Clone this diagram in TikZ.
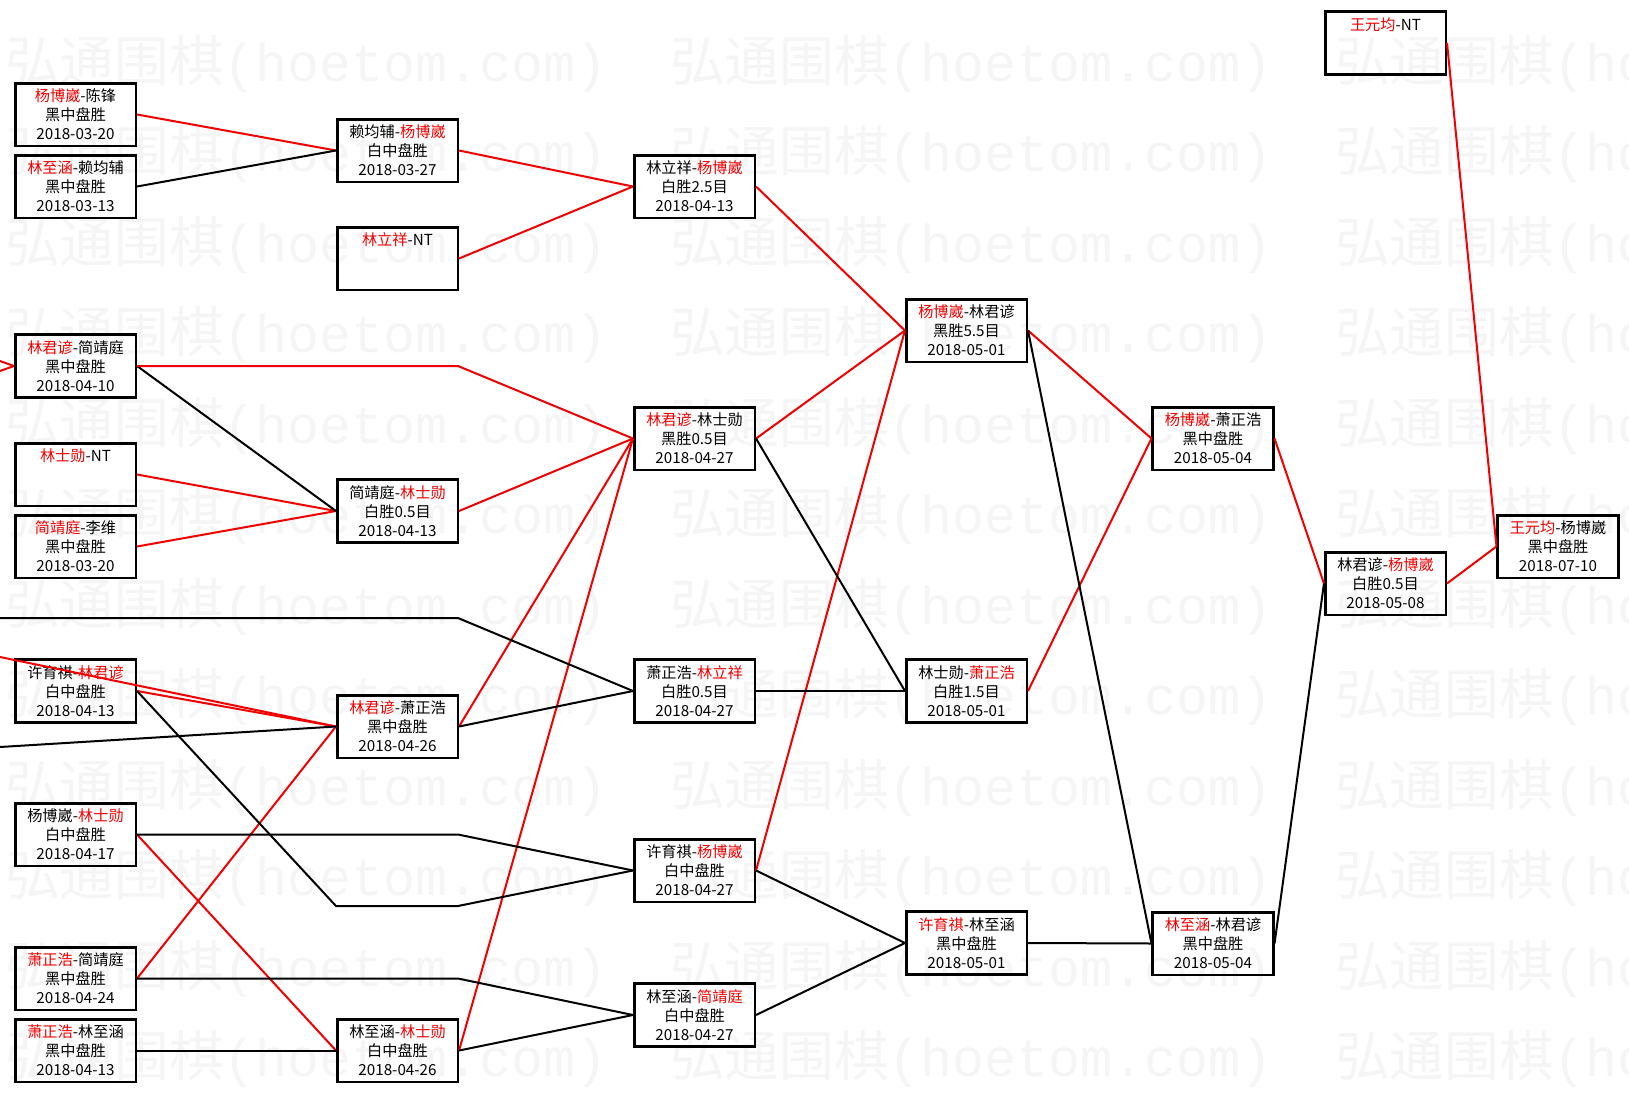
\documentclass[tikz,border=0pt]{standalone}
\usepackage{fontspec}
\newfontfamily\cjk{Noto Sans CJK SC}
\newfontfamily\wmfont{Liberation Mono}
\definecolor{winred}{RGB}{240,0,0}
\newcommand{\wn}[1]{\textcolor{winred}{#1}}

\begin{document}
\begin{tikzpicture}[x=0.75pt, y=-0.75pt,
    game/.style={draw, line width=1.9pt, minimum width=90.4pt, minimum height=46.9pt,
      inner sep=0pt, align=center, font=\cjk\fontsize{11.4}{14.25}\selectfont},
    won/.style={draw=winred, line width=1.5pt},
    lost/.style={draw=black, line width=1.5pt},
    wmark/.style={anchor=west, inner sep=0pt, text=black!4, font=\fontsize{40}{40}\selectfont}]
  \useasboundingbox (0,0) rectangle (1629,1093);
  % watermark
  \begin{scope}
    \clip (0,0) rectangle (1629,1093);
    \foreach \r in {0,...,11}
      \foreach \c in {0,1,2}
        \node[wmark] (wm\r\c) at ({5+665*\c}, {64+90.5*\r}) {{\cjk\fontsize{41}{41}\selectfont 弘通围棋}{\wmfont (hoetom.com)}};
  \end{scope}

  % first column
  \node[game] (a1) at (75.5,114.5) {\wn{杨博崴}-陈锋\\黑中盘胜\\2018-03-20};
  \node[game] (a2) at (75.5,186.5) {\wn{林至涵}-赖均辅\\黑中盘胜\\2018-03-13};
  \node[game] (a3) at (75.5,366) {\wn{林君谚}-简靖庭\\黑中盘胜\\2018-04-10};
  \node[game] (a4) at (75.5,474.5) {\wn{林士勋}-NT\\\phantom{黑中盘胜}\\\phantom{2018-03-20}};
  \node[game] (a5) at (75.5,546.5) {\wn{简靖庭}-李维\\黑中盘胜\\2018-03-20};
  \node[game] (a6) at (75.5,691) {许育祺-\wn{林君谚}\\白中盘胜\\2018-04-13};
  \node[game] (a7) at (75.5,834.5) {杨博崴-\wn{林士勋}\\白中盘胜\\2018-04-17};
  \node[game] (a8) at (75.5,978.5) {\wn{萧正浩}-简靖庭\\黑中盘胜\\2018-04-24};
  \node[game] (a9) at (75.5,1050.5) {\wn{萧正浩}-林至涵\\黑中盘胜\\2018-04-13};

  % second column
  \node[game] (b1) at (397.5,150.5) {赖均辅-\wn{杨博崴}\\白中盘胜\\2018-03-27};
  \node[game] (b2) at (397.5,258.5) {\wn{林立祥}-NT\\\phantom{黑中盘胜}\\\phantom{2018-03-20}};
  \node[game] (b3) at (397.5,511) {简靖庭-\wn{林士勋}\\白胜0.5目\\2018-04-13};
  \node[game] (b4) at (397.5,726.5) {\wn{林君谚}-萧正浩\\黑中盘胜\\2018-04-26};
  \node[game] (b5) at (397.5,1050.5) {林至涵-\wn{林士勋}\\白中盘胜\\2018-04-26};

  % third column
  \node[game] (c1) at (694.5,186.5) {林立祥-\wn{杨博崴}\\白胜2.5目\\2018-04-13};
  \node[game] (c2) at (694.5,438.5) {\wn{林君谚}-林士勋\\黑胜0.5目\\2018-04-27};
  \node[game] (c3) at (694.5,691) {萧正浩-\wn{林立祥}\\白胜0.5目\\2018-04-27};
  \node[game] (c4) at (694.5,870.5) {许育祺-\wn{杨博崴}\\白中盘胜\\2018-04-27};
  \node[game] (c5) at (694.5,1015) {林至涵-\wn{简靖庭}\\白中盘胜\\2018-04-27};

  % fourth column
  \node[game] (d1) at (966.5,330.5) {\wn{杨博崴}-林君谚\\黑胜5.5目\\2018-05-01};
  \node[game] (d2) at (966.5,691) {林士勋-\wn{萧正浩}\\白胜1.5目\\2018-05-01};
  \node[game] (d3) at (966.5,943) {\wn{许育祺}-林至涵\\黑中盘胜\\2018-05-01};

  % last rounds
  \node[game] (e1) at (1213,438.5) {\wn{杨博崴}-萧正浩\\黑中盘胜\\2018-05-04};
  \node[game] (e2) at (1213,943.5) {\wn{林至涵}-林君谚\\黑中盘胜\\2018-05-04};
  \node[game] (f1) at (1385.5,583.5) {林君谚-\wn{杨博崴}\\白胜0.5目\\2018-05-08};
  \node[game] (h1) at (1385.5,43) {\wn{王元均}-NT\\\phantom{黑中盘胜}\\\phantom{2018-03-20}};
  \node[game] (g1) at (1558,546.5) {\wn{王元均}-杨博崴\\黑中盘胜\\2018-07-10};

  % loose ends and bends
  \coordinate (in0) at (0,618);
  \coordinate (in1a) at (0,361);
  \coordinate (in1b) at (0,371);
  \coordinate (in2) at (0,657);
  \coordinate (in3) at (0,747);
  \coordinate (p1) at (458,366);
  \coordinate (p2) at (458,618);
  \coordinate (p3) at (458,834.5);
  \coordinate (p4) at (336,906);
  \coordinate (p5) at (458,906);
  \coordinate (p6) at (458,978.5);

  % round 1 -> round 2
  \path[won] (in1a) edge (a3.west) (in1b) edge (a3.west)
             (a1.east) edge (b1.west)
             (a4.east) edge (b3.west) (a5.east) edge (b3.west)
             (in2) edge (b4.west) (a6.east) edge (b4.west) (a8.east) edge (b4.west)
             (a7.east) edge (b5.west);
  \path[lost] (a2.east) edge (b1.west)
              (a3.east) edge (b3.west)
              (in3) edge (b4.west)
              (a9.east) edge (b5.west);

  % round 2 -> round 3
  \path[won] (b1.east) edge (c1.west) (b2.east) edge (c1.west)
             (b3.east) edge (c2.west) (b4.east) edge (c2.west) (b5.east) edge (c2.west);
  \draw[won] (a3.east) -- (p1) -- (c2.west);
  \draw[lost] (in0) -- (p2) -- (c3.west);
  \draw[lost] (a7.east) -- (p3) -- (c4.west);
  \draw[lost] (a6.east) -- (p4) -- (p5) -- (c4.west);
  \draw[lost] (a8.east) -- (p6) -- (c5.west);
  \path[lost] (b4.east) edge (c3.west) (b5.east) edge (c5.west);

  % round 3 -> round 4
  \path[won] (c1.east) edge (d1.west) (c2.east) edge (d1.west) (c4.east) edge (d1.west);
  \path[lost] (c2.east) edge (d2.west) (c3.east) edge (d2.west)
              (c4.east) edge (d3.west) (c5.east) edge (d3.west);

  % round 4 -> final
  \path[won] (d1.east) edge (e1.west) (d2.east) edge (e1.west)
             (e1.east) edge (f1.west)
             (f1.east) edge (g1.west) (h1.east) edge (g1.west);
  \path[lost] (d1.east) edge (e2.west) (d3.east) edge (e2.west)
              (e2.east) edge (f1.west);
\end{tikzpicture}
\end{document}
